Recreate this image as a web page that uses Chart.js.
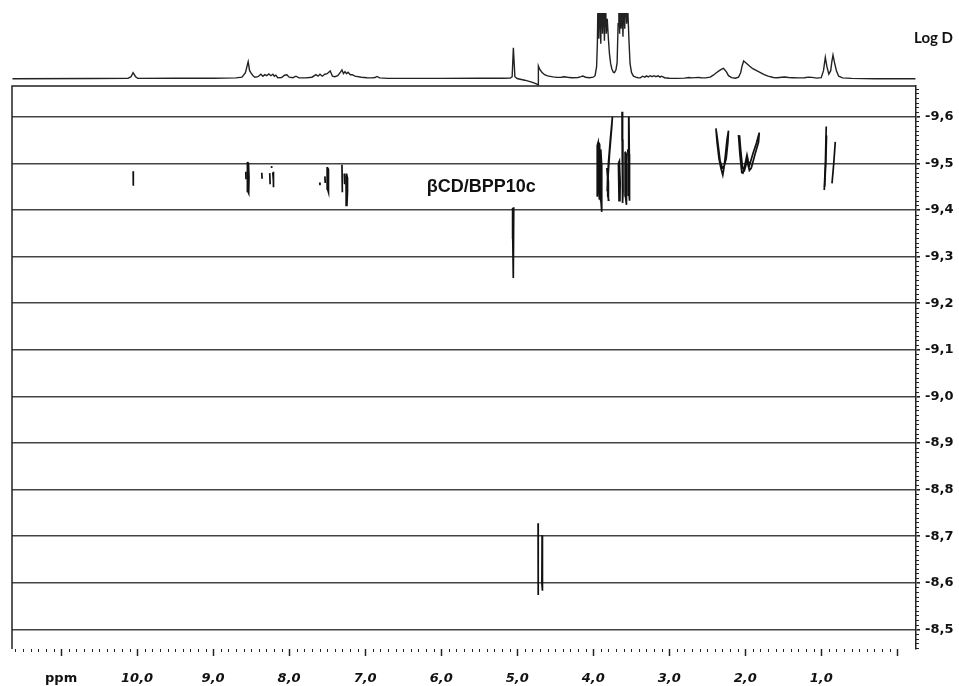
<!DOCTYPE html>
<html>
<head>
<meta charset="utf-8">
<title>DOSY βCD/BPP10c</title>
<script src="https://cdn.jsdelivr.net/npm/chart.js@4.4.1/dist/chart.umd.min.js"></script>
<style>
  body { margin: 0; background: #fff; }
  #wrap { position: relative; width: 959px; height: 686px; }
  #wrap canvas { position: absolute; left: 0; top: 0; }
</style>
</head>
<body>
<div id="wrap">
  <canvas id="dosy" width="959" height="686"></canvas>
  <canvas id="proton" width="959" height="86"></canvas>
</div>
<script>
// ---------- axis ranges (ppm runs right to left, log D grows downwards) ----------
const PPM_MIN = -0.247, PPM_MAX = 11.646;
const LOGD_MIN = -9.666, LOGD_MAX = -8.458;

const ppmTicks = [11, 10, 9, 8, 7, 6, 5, 4, 3, 2, 1, 0];
const logDTicks = [-9.6, -9.5, -9.4, -9.3, -9.2, -9.1, -9.0, -8.9, -8.8, -8.7, -8.6, -8.5];

// 1H projection on top: [ppm, intensity above baseline]
const protonSpectrum = [
  [11.64, 0], [10.6, 0.2], [10.12, 0.3], [10.08, 2], [10.053, 6], [10.02, 2], [9.99, 0.3],
  [9.5, 0.4], [9.0, 0.5], [8.7, 0.8], [8.62, 1.5], [8.575, 6], [8.539, 17], [8.52, 8],
  [8.5, 5.5], [8.475, 3], [8.45, 1.5], [8.41, 2], [8.372, 4.5], [8.345, 2.5], [8.32, 4],
  [8.295, 3], [8.267, 4.8], [8.24, 3], [8.214, 4.5], [8.195, 2.5], [8.175, 3.5], [8.15, 1],
  [8.1, 1.2], [8.06, 3.5], [8.03, 4], [8.0, 1.5], [7.95, 1], [7.91, 2.5], [7.87, 0.8],
  [7.78, 0.8], [7.7, 1.5], [7.647, 4], [7.62, 2.5], [7.594, 4.5], [7.565, 2.5], [7.53, 4.5],
  [7.5, 5], [7.46, 7.7], [7.43, 2.5], [7.4, 2], [7.36, 3], [7.325, 6.5], [7.305, 8.7],
  [7.285, 5], [7.265, 7], [7.245, 5], [7.225, 6.5], [7.195, 4], [7.17, 4], [7.134, 2.5],
  [7.05, 1.5], [6.976, 1], [6.91, 0.8], [6.87, 1.2], [6.845, 2.2], [6.81, 0.8], [6.7, 0.3],
  [6.0, 0.3], [5.5, 0.4], [5.2, 0.5], [5.09, 0.6], [5.066, 2], [5.05, 31], [5.03, 2],
  [5.0, 0.2], [4.96, -0.5], [4.9, -1.5], [4.83, -3], [4.78, -4.2], [4.74, -5.5], [4.725, -6.3],
  [4.721, 12.7], [4.70, 9], [4.675, 6.5], [4.64, 4], [4.6, 2.8], [4.53, 1.8], [4.48, 1.3],
  [4.42, 1.5], [4.38, 2], [4.34, 1.5], [4.28, 1], [4.2, 1.2], [4.16, 2], [4.136, 2.6],
  [4.1, 1.5], [4.05, 1], [4.0, 1.5], [3.975, 3], [3.955, 12], [3.945, 35], [3.935, 90],
  [3.925, 40], [3.912, 90], [3.9, 35], [3.888, 90], [3.876, 45], [3.865, 90], [3.852, 38],
  [3.84, 90], [3.828, 45], [3.815, 60], [3.80, 40], [3.786, 25], [3.77, 15], [3.755, 10],
  [3.735, 6.5], [3.72, 6], [3.70, 9], [3.685, 16], [3.672, 55], [3.662, 90], [3.652, 45],
  [3.642, 90], [3.632, 50], [3.62, 75], [3.608, 42], [3.596, 90], [3.585, 50], [3.573, 90],
  [3.56, 55], [3.545, 70], [3.53, 40], [3.515, 15], [3.495, 6], [3.47, 2.5], [3.44, 1.5],
  [3.41, 1], [3.38, 0.8], [3.35, 2.5], [3.32, 1.5], [3.30, 2.8], [3.275, 1.8], [3.25, 3],
  [3.225, 2], [3.2, 3], [3.175, 2], [3.145, 2.8], [3.12, 1.5], [3.1, 2.5], [3.06, 1],
  [3.0, 0.5], [2.9, 0.3], [2.8, 0.6], [2.74, 1.2], [2.7, 0.8], [2.62, 1.3], [2.58, 1],
  [2.52, 0.8], [2.46, 1.5], [2.42, 3.5], [2.38, 6], [2.34, 8], [2.31, 9.5], [2.285, 10.3],
  [2.265, 8.5], [2.245, 6.5], [2.22, 3], [2.18, 1], [2.13, 0.5], [2.088, 1.5], [2.06, 6],
  [2.04, 13], [2.02, 17.7], [2.0, 16.5], [1.977, 15], [1.94, 12.5], [1.9, 10], [1.85, 8],
  [1.80, 6], [1.75, 4], [1.7, 2.5], [1.63, 1.2], [1.58, 1], [1.52, 1.5], [1.48, 1.7],
  [1.43, 1.2], [1.37, 1], [1.3, 0.8], [1.22, 1], [1.17, 1.6], [1.12, 1.3], [1.06, 0.6],
  [1.0, 1], [0.97, 8], [0.946, 21.3], [0.925, 12], [0.9, 4.5], [0.875, 8], [0.86, 17],
  [0.845, 23.7], [0.825, 16], [0.80, 8], [0.77, 2.5], [0.72, 0.8], [0.6, 0.3], [0.3, 0],
  [-0.24, 0]
];

// DOSY cross peaks, every trace is one contour outline of [ppm, log D]
const aromaticPeaks = [
  [[10.052, -9.483], [10.05, -9.452]],
  [[8.55, -9.503], [8.535, -9.50], [8.528, -9.47], [8.532, -9.436], [8.542, -9.44], [8.548, -9.47], [8.55, -9.503]],
  [[8.57, -9.482], [8.568, -9.466]],
  [[8.36, -9.480], [8.356, -9.467]],
  [[8.255, -9.479], [8.25, -9.455]],
  [[8.208, -9.482], [8.20, -9.449], [8.212, -9.46], [8.215, -9.48]],
  [[8.232, -9.494], [8.23, -9.490]],
  [[7.598, -9.459], [7.594, -9.453]],
  [[7.50, -9.492], [7.485, -9.488], [7.48, -9.46], [7.485, -9.438], [7.495, -9.445], [7.50, -9.47], [7.50, -9.492]],
  [[7.53, -9.472], [7.525, -9.458]],
  [[7.305, -9.497], [7.30, -9.438]],
  [[7.245, -9.478], [7.235, -9.47], [7.232, -9.44], [7.24, -9.41], [7.25, -9.44], [7.252, -9.47], [7.245, -9.478]],
  [[7.275, -9.478], [7.27, -9.455]]
];

const anomericPeaks = [
  [[5.06, -9.404], [5.045, -9.404], [5.048, -9.34], [5.054, -9.254], [5.058, -9.34], [5.06, -9.404]]
];

const sugarPeaks = [
  [[3.945, -9.54], [3.935, -9.545], [3.93, -9.50], [3.935, -9.44], [3.945, -9.43], [3.948, -9.49], [3.945, -9.54]],
  [[3.925, -9.545], [3.915, -9.54], [3.91, -9.48], [3.918, -9.422], [3.926, -9.44], [3.925, -9.545]],
  [[3.90, -9.53], [3.89, -9.50], [3.885, -9.44], [3.89, -9.396], [3.898, -9.42], [3.902, -9.49], [3.90, -9.53]],
  [[3.82, -9.49], [3.81, -9.47], [3.808, -9.43], [3.795, -9.421], [3.80, -9.46], [3.815, -9.49]],
  [[3.815, -9.44], [3.80, -9.50], [3.775, -9.55], [3.747, -9.60], [3.755, -9.58], [3.785, -9.52], [3.805, -9.47]],
  [[3.668, -9.50], [3.655, -9.505], [3.645, -9.46], [3.648, -9.42], [3.66, -9.425], [3.668, -9.50]],
  [[3.62, -9.611], [3.615, -9.55], [3.612, -9.415], [3.607, -9.44], [3.61, -9.55], [3.62, -9.611]],
  [[3.58, -9.525], [3.565, -9.52], [3.56, -9.45], [3.565, -9.411], [3.575, -9.43], [3.58, -9.525]],
  [[3.53, -9.60], [3.525, -9.52], [3.522, -9.42], [3.53, -9.44], [3.535, -9.52], [3.53, -9.60]],
  [[3.545, -9.53], [3.535, -9.50], [3.54, -9.43]]
];

const aliphaticPeaks = [
  [[2.385, -9.575], [2.37, -9.545], [2.345, -9.51], [2.32, -9.49], [2.295, -9.475], [2.28, -9.49],
   [2.262, -9.515], [2.24, -9.55], [2.22, -9.57], [2.228, -9.545], [2.25, -9.51], [2.275, -9.495],
   [2.30, -9.49], [2.33, -9.505], [2.36, -9.545], [2.38, -9.57]],
  [[2.088, -9.561], [2.07, -9.52], [2.045, -9.48], [2.03, -9.479], [2.0, -9.50], [1.977, -9.518],
   [1.96, -9.505], [1.943, -9.496], [1.90, -9.52], [1.85, -9.545], [1.815, -9.566], [1.825, -9.545],
   [1.87, -9.52], [1.92, -9.49], [1.945, -9.485], [1.975, -9.505], [2.01, -9.485], [2.035, -9.49],
   [2.06, -9.53], [2.075, -9.56]],
  [[0.934, -9.579], [0.945, -9.50], [0.96, -9.443]],
  [[0.93, -9.56], [0.94, -9.50], [0.955, -9.45]],
  [[0.815, -9.546], [0.835, -9.50], [0.858, -9.457]]
];

const waterPeaks = [
  [[4.725, -8.728], [4.723, -8.574]],
  [[4.672, -8.702], [4.675, -8.60], [4.668, -8.585], [4.665, -8.65], [4.67, -8.702]]
];

// ---------- helpers ----------
const fmt = v => v.toFixed(1).replace('.', ',');
const toXY = pts => pts.map(([x, y]) => ({ x, y }));

// frame on top/left, minor ticks, sample label
const dosyFrame = {
  id: 'dosyFrame',
  afterDraw(chart) {
    const { ctx, chartArea: a, scales: { x, y } } = chart;
    ctx.save();
    ctx.strokeStyle = '#222';
    ctx.lineWidth = 1.5;
    ctx.beginPath();
    ctx.moveTo(a.left, a.bottom);
    ctx.lineTo(a.left, a.top);
    ctx.lineTo(a.right, a.top);
    ctx.stroke();

    ctx.lineWidth = 1;
    ctx.beginPath();
    for (let i = 0; i <= 116; i++) {
      if (i % 10 === 0) continue;
      const px = Math.round(x.getPixelForValue(i / 10)) + 0.5;
      ctx.moveTo(px, a.bottom);
      ctx.lineTo(px, a.bottom + 3);
    }
    for (let i = -966; i <= -846; i++) {
      if (i % 10 === 0) continue;
      const py = Math.round(y.getPixelForValue(i / 100)) + 0.5;
      ctx.moveTo(a.right, py);
      ctx.lineTo(a.right + 3, py);
    }
    ctx.stroke();

    ctx.font = 'bold 18px "Liberation Sans", Arial, sans-serif';
    ctx.fillStyle = '#111';
    ctx.textBaseline = 'middle';
    ctx.textAlign = 'left';
    ctx.fillText('βCD/BPP10c', x.getPixelForValue(6.19), y.getPixelForValue(-9.449));
    ctx.restore();
  }
};

const logDTitle = {
  id: 'logDTitle',
  afterDraw(chart) {
    const { ctx } = chart;
    ctx.save();
    ctx.font = 'bold 15px Lato, sans-serif';
    ctx.fillStyle = '#111';
    ctx.textAlign = 'right';
    ctx.textBaseline = 'middle';
    ctx.fillText('Log D', chart.width - 6, 38);
    ctx.restore();
  }
};

// ---------- DOSY map ----------
const traces = [...aromaticPeaks, ...anomericPeaks, ...sugarPeaks, ...aliphaticPeaks, ...waterPeaks];

new Chart(document.getElementById('dosy'), {
  type: 'scatter',
  data: {
    datasets: traces.map(t => ({
      data: toXY(t),
      showLine: true,
      borderColor: '#111',
      borderWidth: 1.7,
      pointRadius: 0,
      tension: 0,
      fill: false
    }))
  },
  options: {
    responsive: false,
    animation: false,
    layout: { padding: { left: 12, top: 86, right: 0, bottom: 0 } },
    scales: {
      x: {
        type: 'linear',
        reverse: true,
        min: PPM_MIN,
        max: PPM_MAX,
        afterBuildTicks: s => { s.ticks = ppmTicks.map(value => ({ value })); },
        afterFit: s => { s.height = 37; },
        ticks: {
          autoSkip: false,
          maxRotation: 0,
          padding: 15,
          color: '#111',
          callback: v => (v === 11 ? 'ppm' : v === 0 ? '' : fmt(v)),
          font: ctx => (ctx.tick && ctx.tick.value === 11)
            ? { family: 'DejaVu Sans', size: 13, weight: 'bold' }
            : { family: 'DejaVu Sans', size: 13, weight: 'bold', style: 'italic' }
        },
        grid: { drawOnChartArea: false, drawTicks: true, tickLength: 7, tickColor: '#222', tickWidth: 1.5 },
        border: { display: false }
      },
      y: {
        type: 'linear',
        position: 'right',
        reverse: true,
        min: LOGD_MIN,
        max: LOGD_MAX,
        afterBuildTicks: s => { s.ticks = logDTicks.map(value => ({ value })); },
        afterFit: s => { s.width = 43; },
        ticks: {
          autoSkip: false,
          padding: 5,
          color: '#111',
          callback: v => fmt(v),
          font: { family: 'DejaVu Sans', size: 13, weight: 'bold' }
        },
        grid: { color: '#444', lineWidth: 1.6, tickLength: 4, tickColor: '#222' },
        border: { display: true, color: '#222', width: 1.5 }
      }
    },
    plugins: { legend: { display: false }, tooltip: { enabled: false } }
  },
  plugins: [dosyFrame]
});

// ---------- 1H projection ----------
new Chart(document.getElementById('proton'), {
  type: 'scatter',
  data: {
    datasets: [{
      data: toXY(protonSpectrum),
      showLine: true,
      borderColor: '#222',
      borderWidth: 1.4,
      pointRadius: 0,
      tension: 0
    }]
  },
  options: {
    responsive: false,
    animation: false,
    layout: { padding: { left: 12, right: 43, top: 13, bottom: 0 } },
    scales: {
      x: { type: 'linear', display: false, reverse: true, min: PPM_MIN, max: PPM_MAX },
      y: { type: 'linear', display: false, min: -7.3, max: 65.7 }
    },
    plugins: { legend: { display: false }, tooltip: { enabled: false } }
  },
  plugins: [logDTitle]
});
</script>
</body>
</html>
